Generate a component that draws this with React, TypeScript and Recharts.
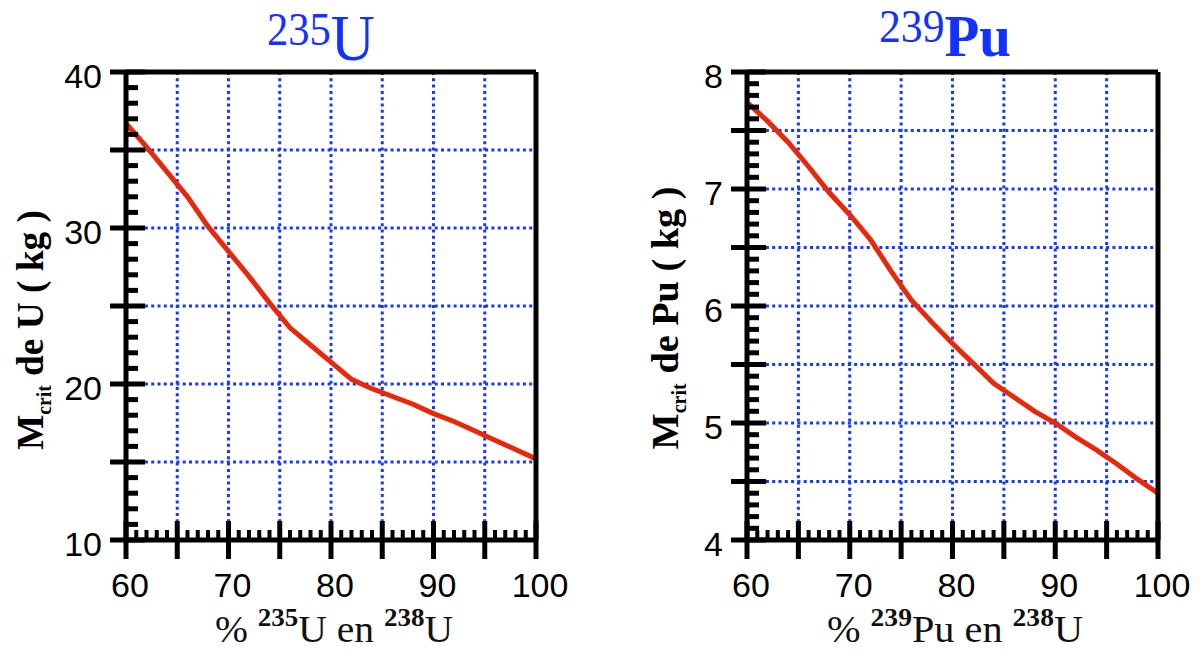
import React from 'react';
import { LineChart, Line, XAxis, YAxis, CartesianGrid, ReferenceLine } from 'recharts';

// ---- data ----
const pct = [60, 62, 64, 66, 68, 70, 72, 74, 76, 78, 80, 82, 84, 86, 88, 90, 92, 94, 96, 98, 100];
const massU = [36.7, 35.2, 33.6, 32.0, 30.1, 28.5, 26.9, 25.2, 23.6, 22.5, 21.4, 20.3, 19.7, 19.2, 18.7, 18.1, 17.6, 17.0, 16.4, 15.8, 15.2];
const massPu = [7.74, 7.58, 7.4, 7.19, 6.97, 6.78, 6.57, 6.3, 6.05, 5.86, 5.68, 5.51, 5.34, 5.22, 5.1, 5.0, 4.88, 4.77, 4.65, 4.52, 4.4];

const xTickLabels = [60, 70, 80, 90, 100];
const yTickLabelsU = [10, 20, 30, 40];
const yTickLabelsPu = [4, 5, 6, 7, 8];
const xGrid = [65, 70, 75, 80, 85, 90, 95];
const yGridU = [15, 20, 25, 30, 35];
const yGridPu = [4.5, 5, 5.5, 6, 6.5, 7, 7.5];

const dataU = pct.map((p, i) => ({ pct: p, mass: massU[i] }));
const dataPu = pct.map((p, i) => ({ pct: p, mass: massPu[i] }));

function steps(min: number, max: number, step: number): number[] {
  const out: number[] = [];
  const n = Math.round((max - min) / step);
  for (let i = 0; i <= n; i++) out.push(Math.round((min + i * step) * 1000) / 1000);
  return out;
}
const near = (a: number, b: number) => Math.abs(a - b) < 1e-6;
const isMult = (v: number, s: number) => near(v / s, Math.round(v / s));

const TICK_FONT = "'Liberation Sans', Arial, sans-serif";
const SERIF = "'Liberation Serif', 'Times New Roman', serif";
const GRID = '#1438ff';
const RED = '#e8280a';
const BLUE = '#1432ff';

const CH_W = 600;
const CH_H = 651;
const TOP = 72;
const BOTTOM = 540;
const AX = 2; // axis box size

type PanelProps = {
  left: number;
  plotLeft: number;
  plotRight: number;
  data: { pct: number; mass: number }[];
  yDomain: [number, number];
  yMinor: number;
  yMajor: number;
  yLabels: number[];
  yGrid: number[];
};

function Panel(p: PanelProps) {
  const yTicks = steps(p.yDomain[0], p.yDomain[1], p.yMinor);
  const xTicks = steps(60, 100, 1);
  const axisX = p.plotLeft;
  const axisY = BOTTOM;

  const YTick = (props: any) => {
    const { y, payload } = props;
    const v = payload.value as number;
    const major = isMult(v, p.yMajor);
    const lab = p.yLabels.some((l) => near(l, v));
    return (
      <g>
        {major ? (
          <rect x={axisX - 16} y={y - 2.5} width={35} height={5} fill="#000" />
        ) : (
          <rect x={axisX} y={y - 2.5} width={12} height={5} fill="#000" />
        )}
        {lab && (
          <text x={axisX - 24} y={y + 16} textAnchor="end" fontSize={34} fontFamily={TICK_FONT} fill="#000">
            {v}
          </text>
        )}
      </g>
    );
  };

  const XTick = (props: any) => {
    const { x, payload } = props;
    const v = payload.value as number;
    const major = isMult(v, 5);
    const lab = xTickLabels.some((l) => near(l, v));
    return (
      <g>
        {major ? (
          <rect x={x - 2.5} y={axisY - 19} width={5} height={38} fill="#000" />
        ) : (
          <rect x={x - 2} y={axisY - 10} width={4} height={10} fill="#000" />
        )}
        {lab && (
          <text x={x + 4} y={axisY + 57} textAnchor="middle" fontSize={34} fontFamily={TICK_FONT} fill="#000">
            {v}
          </text>
        )}
      </g>
    );
  };

  return (
    <div style={{ position: 'absolute', left: p.left, top: 0 }}>
      <LineChart
        width={CH_W}
        height={CH_H}
        data={p.data}
        margin={{ top: TOP, bottom: CH_H - BOTTOM - AX, left: p.plotLeft - AX, right: CH_W - p.plotRight }}
      >
        <CartesianGrid
          stroke={GRID}
          strokeWidth={3}
          strokeDasharray="3 3.3"
          horizontalValues={p.yGrid}
          verticalValues={xGrid}
        />
        <XAxis
          dataKey="pct"
          type="number"
          domain={[60, 100]}
          ticks={xTicks}
          interval={0}
          height={AX}
          tickLine={false}
          axisLine={{ stroke: '#000', strokeWidth: 5 }}
          tick={XTick}
        />
        <YAxis
          type="number"
          domain={p.yDomain}
          ticks={yTicks}
          interval={0}
          width={AX}
          tickLine={false}
          axisLine={{ stroke: '#000', strokeWidth: 5 }}
          tick={YTick}
        />
        <Line
          type="linear"
          dataKey="mass"
          stroke={RED}
          strokeWidth={5}
          dot={false}
          activeDot={false}
          isAnimationActive={false}
        />
        <ReferenceLine y={p.yDomain[1]} stroke="#000" strokeWidth={5} />
        <ReferenceLine x={100} stroke="#000" strokeWidth={5} />
      </LineChart>
    </div>
  );
}

export default function App() {
  return (
    <div style={{ position: 'absolute', left: 0, top: 0, width: 1200, height: 651, background: '#fff', overflow: 'hidden' }}>
      <Panel
        left={0}
        plotLeft={126}
        plotRight={536}
        data={dataU}
        yDomain={[10, 40]}
        yMinor={1}
        yMajor={5}
        yLabels={yTickLabelsU}
        yGrid={yGridU}
      />
      <Panel
        left={600}
        plotLeft={147}
        plotRight={558}
        data={dataPu}
        yDomain={[4, 8]}
        yMinor={0.1}
        yMajor={0.5}
        yLabels={yTickLabelsPu}
        yGrid={yGridPu}
      />
      <svg width={1200} height={651} style={{ position: 'absolute', left: 0, top: 0, pointerEvents: 'none' }}>
        {/* titles */}
        <text x={321} y={45} textAnchor="middle" fill={BLUE} fontFamily={SERIF} textLength={108} lengthAdjust="spacingAndGlyphs">
          <tspan fontSize={46}>235</tspan>
          <tspan fontSize={66} dy={15}>U</tspan>
        </text>
        <text x={945} y={42} textAnchor="middle" fill={BLUE} fontFamily={SERIF} textLength={132} lengthAdjust="spacingAndGlyphs">
          <tspan fontSize={46}>239</tspan>
          <tspan fontSize={60} fontWeight="bold" dy={14}>Pu</tspan>
        </text>
        {/* x axis titles */}
        <text x={334} y={642} textAnchor="middle" fill="#111" fontFamily={SERIF} fontSize={38} textLength={238} lengthAdjust="spacingAndGlyphs">
          {'% '}
          <tspan fontSize={26} fontWeight="bold" dy={-16}>235</tspan>
          <tspan dy={16}>U en </tspan>
          <tspan fontSize={26} fontWeight="bold" dy={-16}>238</tspan>
          <tspan dy={16}>U</tspan>
        </text>
        <text x={955} y={642} textAnchor="middle" fill="#111" fontFamily={SERIF} fontSize={38} textLength={256} lengthAdjust="spacingAndGlyphs">
          {'% '}
          <tspan fontSize={26} fontWeight="bold" dy={-16}>239</tspan>
          <tspan dy={16}>Pu en </tspan>
          <tspan fontSize={26} fontWeight="bold" dy={-16}>238</tspan>
          <tspan dy={16}>U</tspan>
        </text>
        {/* y axis titles */}
        <text transform="translate(43,330) rotate(-90)" textAnchor="middle" fill="#000" fontFamily={SERIF} fontWeight="bold" fontSize={38} textLength={240} lengthAdjust="spacingAndGlyphs">
          M
          <tspan fontSize={20} dy={8}>crit</tspan>
          <tspan dy={-8}> de U ( kg )</tspan>
        </text>
        <text transform="translate(678,318) rotate(-90)" textAnchor="middle" fill="#000" fontFamily={SERIF} fontWeight="bold" fontSize={38} textLength={263} lengthAdjust="spacingAndGlyphs">
          M
          <tspan fontSize={20} dy={8}>crit</tspan>
          <tspan dy={-8}> de Pu ( kg )</tspan>
        </text>
      </svg>
    </div>
  );
}
